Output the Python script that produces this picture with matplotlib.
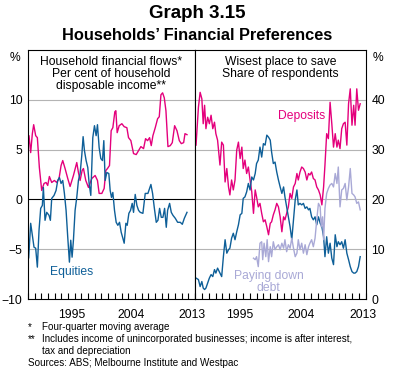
import numpy as np
import matplotlib.pyplot as plt

plt.rcParams['font.family'] = ['Liberation Sans', 'DejaVu Sans']

# --- left panel: household financial flows, % of disposable income ---
dep_flow_t = [1989.0, 1989.15, 1989.4, 1989.65, 1989.85, 1990.15, 1990.4, 1990.7, 1991.05, 1991.4,
              1991.7, 1991.95, 1992.2, 1992.55, 1992.95, 1993.3, 1993.65, 1993.95, 1994.2, 1994.55,
              1994.95, 1995.3, 1995.8, 1996.3, 1996.55, 1996.8, 1997.1, 1997.3, 1997.65, 1998.05,
              1998.55, 1999.05, 1999.4, 1999.65, 2000.05, 2000.4, 2000.65, 2000.9, 2001.2, 2001.45,
              2001.7, 2002.0, 2002.15, 2002.35, 2002.65, 2003.05, 2003.4, 2003.8, 2004.05, 2004.4,
              2004.8, 2005.2, 2005.55, 2005.9, 2006.3, 2006.6, 2006.9, 2007.2, 2007.45, 2007.7,
              2008.05, 2008.4, 2008.65, 2008.9, 2009.15, 2009.4, 2009.65, 2009.95, 2010.3, 2010.6,
              2010.95, 2011.3, 2011.65, 2011.95, 2012.3, 2012.5, 2012.8]
dep_flow = [5.2, 6.4, 4.7, 6.6, 7.5, 6.4, 6.2, 3.2, 0.9, 1.6,
            1.7, 1.4, 2.3, 1.7, 1.9, 1.7, 2.1, 3.4, 3.9, 3.1,
            2.1, 1.3, 2.4, 3.7, 2.7, 1.9, 2.9, 3.1, 1.9, 1.2,
            2.1, 2.4, 1.9, 0.6, 0.6, 1.1, 2.9, 3.1, 3.4, 6.9,
            7.2, 8.8, 8.9, 6.7, 7.4, 7.6, 7.3, 7.2, 6.2, 5.9,
            4.6, 4.5, 4.9, 5.3, 5.1, 6.1, 5.9, 6.2, 5.4, 6.4,
            7.2, 8.1, 8.3, 10.5, 10.7, 10.2, 8.9, 5.3, 5.4, 5.7,
            7.4, 6.9, 5.9, 5.6, 5.7, 6.6, 6.5]

eq_flow_t = [1989.0, 1989.1, 1989.4, 1989.65, 1989.9, 1990.15, 1990.4, 1990.65, 1990.9, 1991.15,
             1991.3, 1991.55, 1991.8, 1992.15, 1992.35, 1992.55, 1992.9, 1993.2, 1993.45, 1993.7,
             1993.95, 1994.2, 1994.45, 1994.7, 1994.95, 1995.2, 1995.4, 1995.6, 1995.8, 1996.05,
             1996.3, 1996.55, 1996.8, 1997.05, 1997.25, 1997.45, 1997.7, 1997.95, 1998.15, 1998.4,
             1998.7, 1998.95, 1999.2, 1999.4, 1999.65, 1999.9, 2000.15, 2000.35, 2000.55, 2000.8,
             2001.1, 2001.3, 2001.5, 2001.7, 2001.95, 2002.2, 2002.45, 2002.7, 2002.95, 2003.2,
             2003.4, 2003.65, 2003.85, 2004.1, 2004.35, 2004.6, 2004.8, 2005.05, 2005.3, 2005.55,
             2005.8, 2006.2, 2006.55, 2006.95, 2007.2, 2007.4, 2007.65, 2007.9, 2008.2, 2008.45,
             2008.7, 2008.95, 2009.2, 2009.45, 2009.7, 2009.9, 2010.2, 2010.45, 2010.7, 2011.05,
             2011.4, 2011.8, 2012.1, 2012.4, 2012.8]
eq_flow = [-4.4, -5.9, -2.4, -3.6, -4.8, -4.9, -6.8, -3.1, -0.9, -0.6,
           1.2, -2.1, -1.3, -1.6, -2.1, 0.1, 0.4, 0.9, 1.9, 2.2,
           1.6, 1.9, 0.6, -1.1, -3.8, -6.3, -4.1, -5.8, -4.1, -1.1,
           0.2, 1.9, 2.6, 4.4, 6.3, 4.9, 3.9, 3.2, 1.6, 0.4,
           6.2, 7.4, 6.4, 7.5, 5.2, 4.1, 3.9, 5.9, 1.9, 2.7,
           2.6, 0.9, 0.2, 0.7, -1.1, -2.3, -2.6, -2.3, -3.3, -3.9,
           -4.4, -2.4, -2.6, -1.4, -1.1, -0.4, -1.3, 0.5, -0.6, -1.1,
           -1.3, -1.4, 0.6, 0.6, 1.1, 1.5, 0.6, -0.8, -2.3, -2.1,
           -0.9, -1.8, -1.8, -0.9, -2.8, -1.1, -0.4, -1.3, -1.6, -1.9,
           -2.3, -2.3, -2.5, -1.9, -1.3]

# --- right panel: wisest place to save, share of respondents ---
svy_t = [1989.15, 1989.5, 1989.75, 1990.0, 1990.2, 1990.4, 1990.6, 1990.85, 1991.1, 1991.35,
         1991.6, 1991.85, 1992.05, 1992.3, 1992.65, 1992.9, 1993.15, 1993.4, 1993.65, 1993.9,
         1994.1, 1994.35, 1994.6, 1994.85, 1995.1, 1995.35, 1995.6, 1995.85, 1996.05, 1996.3,
         1996.55, 1996.8, 1997.05, 1997.3, 1997.55, 1997.8, 1998.0, 1998.25, 1998.5, 1998.75,
         1999.0, 1999.25, 1999.5, 1999.75, 2000.0, 2000.2, 2000.45, 2000.7, 2000.95, 2001.2,
         2001.45, 2001.7, 2001.95, 2002.15, 2002.4, 2002.65, 2002.9, 2003.15, 2003.4, 2003.65,
         2003.9, 2004.1, 2004.35, 2004.6, 2004.85, 2005.1, 2005.35, 2005.6, 2005.8, 2006.05,
         2006.3, 2006.55, 2006.8, 2007.05, 2007.3, 2007.55, 2007.8, 2008.0, 2008.25, 2008.5,
         2008.75, 2009.0, 2009.25, 2009.5, 2009.75, 2009.95, 2010.2, 2010.45, 2010.7, 2010.95,
         2011.2, 2011.45, 2011.7, 2011.95, 2012.2, 2012.4, 2012.65, 2012.9, 2013.15]
deposits = [30.9, 38.5, 41.5, 40.2, 35.2, 38.9, 34.2, 36.5, 35.2, 36.9,
            34.2, 35.5, 33.2, 31.9, 26.9, 31.5, 30.9, 23.5, 26.2, 22.5,
            20.9, 23.9, 21.9, 23.9, 29.9, 31.5, 28.2, 30.5, 26.2, 27.9,
            25.2, 26.5, 23.9, 21.5, 17.2, 21.9, 20.5, 18.5, 19.2, 17.2,
            15.5, 15.9, 14.5, 12.9, 15.2, 15.5, 16.9, 17.9, 19.2, 18.5,
            16.5, 13.5, 16.5, 15.9, 17.2, 18.5, 21.2, 20.2, 22.5, 23.2,
            25.2, 23.9, 25.5, 26.5, 26.2, 25.5, 23.9, 25.2, 24.9, 25.5,
            24.2, 23.9, 22.5, 21.9, 20.9, 18.9, 22.5, 26.9, 33.2, 32.2,
            39.5, 35.2, 30.5, 33.2, 30.5, 31.9, 30.2, 34.2, 35.2, 35.5,
            30.9, 39.2, 42.2, 34.9, 38.9, 34.9, 42.2, 37.9, 39.2]
equities = [4.2, 3.9, 2.5, 3.5, 2.2, 1.9, 2.2, 3.2, 4.2, 4.9,
            4.5, 5.9, 5.2, 6.2, 5.2, 4.5, 8.5, 11.9, 9.2, 9.9,
            10.2, 12.2, 13.2, 11.9, 13.5, 14.9, 16.9, 17.2, 20.2, 20.5,
            21.5, 23.2, 21.9, 24.5, 23.9, 25.2, 27.2, 27.9, 30.5, 28.5,
            31.2, 30.9, 32.9, 32.5, 31.9, 29.5, 27.2, 27.5, 25.5, 23.9,
            22.5, 21.2, 22.5, 20.5, 18.5, 16.5, 14.5, 11.9, 15.9, 19.9,
            21.9, 18.9, 19.2, 18.9, 19.2, 18.2, 18.5, 17.9, 18.2, 16.5,
            15.9, 16.5, 14.9, 16.5, 15.2, 14.5, 12.5, 8.5, 12.5, 9.2,
            11.2, 8.2, 6.9, 12.9, 10.5, 11.5, 10.9, 11.5, 10.2, 11.9,
            9.2, 7.9, 6.5, 5.5, 5.2, 5.2, 5.5, 6.5, 8.5]

debt_t = [1997.55, 1997.8, 1998.0, 1998.25, 1998.5, 1998.75, 1998.9, 1999.1, 1999.35, 1999.55,
          1999.75, 2000.0, 2000.2, 2000.45, 2000.7, 2000.95, 2001.2, 2001.45, 2001.7, 2001.95,
          2002.15, 2002.4, 2002.65, 2002.9, 2003.15, 2003.4, 2003.65, 2003.9, 2004.1, 2004.35,
          2004.6, 2004.85, 2005.1, 2005.35, 2005.6, 2005.8, 2006.05, 2006.3, 2006.55, 2006.8,
          2007.05, 2007.3, 2007.45, 2007.65, 2007.8, 2008.0, 2008.25, 2008.5, 2008.75, 2009.0,
          2009.25, 2009.5, 2009.75, 2009.95, 2010.2, 2010.45, 2010.7, 2010.95, 2011.2, 2011.45,
          2011.7, 2011.95, 2012.2, 2012.4, 2012.65, 2012.9, 2013.15]
pay_debt = [8.2, 7.9, 8.5, 6.5, 11.2, 11.5, 7.9, 11.2, 8.5, 11.9,
            7.5, 10.5, 8.5, 11.5, 9.9, 10.5, 10.9, 9.9, 11.2, 10.2,
            11.9, 9.5, 10.9, 10.2, 12.2, 10.2, 8.5, 9.2, 11.9, 9.9,
            11.2, 9.2, 10.9, 8.9, 10.5, 11.2, 11.9, 10.5, 12.2, 15.9,
            19.2, 18.5, 14.5, 16.5, 11.9, 18.2, 21.2, 22.2, 22.9, 23.2,
            22.5, 25.2, 23.2, 26.5, 18.5, 21.9, 22.2, 23.2, 19.9, 22.5,
            26.2, 21.2, 20.9, 20.5, 19.2, 19.5, 17.9]

yr_labels = ['1995', '2004', '2013']

PINK = '#E4007C'
BLUE = '#0E5F98'
LAV = '#A9A9D6'
GRID = '#B4B4B4'
TXT = 8.7

W, H = 395, 373
fig = plt.figure(figsize=(W / 100, H / 100), dpi=100)
bot = (H - 299) / H
hgt = 249 / H
ax1 = fig.add_axes([28 / W, bot, 167 / W, hgt])
ax2 = fig.add_axes([195 / W, bot, 171 / W, hgt])

for ax in (ax1, ax2):
    ax.set_xlim(1989, 2014)
    ax.set_xticks(np.arange(1989, 2015))
    ax.set_xticklabels([])
    ax.set_xticks([1995.5, 2004.5, 2013.5], minor=True)
    ax.set_xticklabels(yr_labels, minor=True)
    ax.tick_params(axis='x', which='major', direction='in', length=4, width=0.8, color='black')
    ax.tick_params(axis='x', which='minor', length=0, pad=7, labelsize=TXT)
    ax.tick_params(axis='y', length=0, labelsize=TXT, pad=4)
    for s in ax.spines.values():
        s.set_linewidth(0.8)

# left
ax1.set_ylim(-10, 15)
ax1.set_yticks([-10, -5, 0, 5, 10])
for v in [-5, 5, 10]:
    ax1.axhline(v, color=GRID, lw=0.8, zorder=0)
ax1.axhline(0, color='black', lw=0.8, zorder=1)
ax1.plot(dep_flow_t, dep_flow, color=PINK, lw=1.0)
ax1.plot(eq_flow_t, eq_flow, color=BLUE, lw=1.0)
ax1.text(0.5, 0.975, 'Household financial flows*\nPer cent of household\ndisposable income**',
         transform=ax1.transAxes, ha='center', va='top', fontsize=TXT, linespacing=0.98)
ax1.text(1995.6, -7.3, 'Equities', color=BLUE, fontsize=TXT, ha='center', va='center')

# right
ax2.set_ylim(0, 50)
ax2.set_yticks([0, 10, 20, 30, 40])
ax2.yaxis.tick_right()
for v in [10, 20, 30, 40]:
    ax2.axhline(v, color=GRID, lw=0.8, zorder=0)
ax2.plot(svy_t, deposits, color=PINK, lw=1.0)
ax2.plot(svy_t, equities, color=BLUE, lw=1.0)
ax2.plot(debt_t, pay_debt, color=LAV, lw=1.0)
ax2.text(0.5, 0.975, 'Wisest place to save\nShare of respondents',
         transform=ax2.transAxes, ha='center', va='top', fontsize=TXT, linespacing=0.98)
ax2.text(2004.6, 36.8, 'Deposits', color=PINK, fontsize=TXT, ha='center', va='center')
ax2.text(1999.8, 3.4, 'Paying down\ndebt', color=LAV, fontsize=TXT, ha='center', va='center',
         linespacing=0.95)

fig.text(15 / W, 1 - 58 / H, '%', fontsize=TXT, ha='center', va='center')
fig.text(378 / W, 1 - 58 / H, '%', fontsize=TXT, ha='center', va='center')

fig.text(197 / W, 1 - 14 / H, 'Graph 3.15', fontsize=13.5, fontweight='bold', ha='center', va='center')
fig.text(197 / W, 1 - 36 / H, 'Households\u2019 Financial Preferences', fontsize=11.8,
         fontweight='bold', ha='center', va='center')

fs = 7.1
fig.text(28 / W, 1 - 327 / H, '*', fontsize=fs, va='center')
fig.text(42 / W, 1 - 327 / H, 'Four-quarter moving average', fontsize=fs, va='center')
fig.text(28 / W, 1 - 339 / H, '**', fontsize=fs, va='center')
fig.text(42 / W, 1 - 339 / H, 'Includes income of unincorporated businesses; income is after interest,',
         fontsize=fs, va='center')
fig.text(42 / W, 1 - 351 / H, 'tax and depreciation', fontsize=fs, va='center')
fig.text(28 / W, 1 - 363 / H, 'Sources: ABS; Melbourne Institute and Westpac', fontsize=fs, va='center')

fig.savefig('out.png', dpi=100)
